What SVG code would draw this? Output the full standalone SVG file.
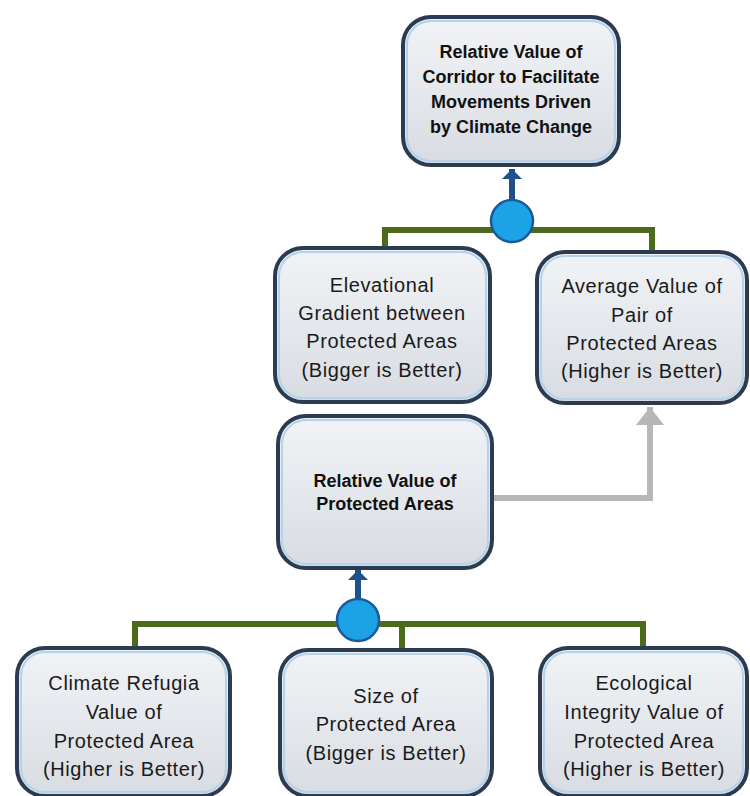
<svg xmlns="http://www.w3.org/2000/svg" width="750" height="796" viewBox="0 0 750 796">
  <defs>
    <linearGradient id="boxFill" x1="0" y1="0" x2="0" y2="1">
      <stop offset="0" stop-color="#f1f3f6"/>
      <stop offset="1" stop-color="#d8dce2"/>
    </linearGradient>
    <marker id="blueHead" markerUnits="userSpaceOnUse" markerWidth="10" markerHeight="20" viewBox="0 0 10 20" refX="10" refY="10" orient="auto">
      <path d="M0,0 L10,10 L0,20 Z" fill="#1f4f8c"/>
    </marker>
    <marker id="greyHead" markerUnits="userSpaceOnUse" markerWidth="18" markerHeight="28" viewBox="0 0 18 28" refX="18" refY="14" orient="auto">
      <path d="M0,0 L18,14 L0,28 Z" fill="#b7b7b7"/>
    </marker>
  </defs>
  <style>
    .box { fill: url(#boxFill); stroke: #2b3c52; stroke-width: 4; }
    .inner { fill: none; stroke: #b4d2ea; stroke-width: 2; }
    .t { font-family: "Liberation Sans", Arial, sans-serif; font-size: 20px; letter-spacing: 0.6px; fill: #1a1a1a; text-anchor: middle; }
    .b { font-family: "Liberation Sans", Arial, sans-serif; font-size: 18px; font-weight: bold; fill: #111; text-anchor: middle; }
    .green { fill: none; stroke: #4c6a1b; stroke-width: 6; }
    .blue { fill: none; stroke: #1f4f8c; stroke-width: 6; marker-end: url(#blueHead); }
    .grey { fill: none; stroke: #b7b7b7; stroke-width: 6; marker-end: url(#greyHead); }
    .junction { fill: #1ba3e6; stroke: #1b5a99; stroke-width: 2.5; }
  </style>
  <rect width="750" height="796" fill="#ffffff"/>

  <g id="connectors">
    <path class="green" d="M385,250 V230 H652 V252"/>
    <path class="blue" d="M512,202 V169"/>
    <circle class="junction" cx="512" cy="221" r="21"/>

    <path class="grey" d="M492,498 H650 V407"/>

    <path class="green" d="M135,649 V624 H643 V649"/>
    <path class="green" d="M402,624 V650"/>
    <path class="blue" d="M358,600 V570"/>
    <circle class="junction" cx="358" cy="620" r="21"/>
  </g>

  <g id="node-corridor">
    <rect class="box" x="403" y="17" width="216" height="148" rx="28"/>
    <rect class="inner" x="407" y="21" width="208" height="140" rx="24"/>
    <text class="b" x="511" y="58">Relative Value of</text>
    <text class="b" x="511" y="83">Corridor to Facilitate</text>
    <text class="b" x="511" y="108">Movements Driven</text>
    <text class="b" x="511" y="133">by Climate Change</text>
  </g>

  <g id="node-elevational">
    <rect class="box" x="275" y="248" width="215" height="154" rx="28"/>
    <rect class="inner" x="279" y="252" width="207" height="146" rx="24"/>
    <text class="t" x="382" y="292">Elevational</text>
    <text class="t" x="382" y="320">Gradient between</text>
    <text class="t" x="382" y="348">Protected Areas</text>
    <text class="t" x="382" y="377">(Bigger is Better)</text>
  </g>

  <g id="node-average">
    <rect class="box" x="537" y="252" width="210" height="151" rx="28"/>
    <rect class="inner" x="541" y="256" width="202" height="143" rx="24"/>
    <text class="t" x="642" y="293">Average Value of</text>
    <text class="t" x="642" y="322">Pair of</text>
    <text class="t" x="642" y="350">Protected Areas</text>
    <text class="t" x="642" y="378">(Higher is Better)</text>
  </g>

  <g id="node-protected">
    <rect class="box" x="278" y="416" width="214" height="152" rx="28"/>
    <rect class="inner" x="282" y="420" width="206" height="144" rx="24"/>
    <text class="b" x="385" y="487">Relative Value of</text>
    <text class="b" x="385" y="510">Protected Areas</text>
  </g>

  <g id="node-refugia">
    <rect class="box" x="17" y="648" width="213" height="148" rx="28"/>
    <rect class="inner" x="21" y="652" width="205" height="140" rx="24"/>
    <text class="t" x="124" y="690">Climate Refugia</text>
    <text class="t" x="124" y="719">Value of</text>
    <text class="t" x="124" y="748">Protected Area</text>
    <text class="t" x="124" y="776">(Higher is Better)</text>
  </g>

  <g id="node-size">
    <rect class="box" x="280" y="650" width="212" height="146" rx="28"/>
    <rect class="inner" x="284" y="654" width="204" height="138" rx="24"/>
    <text class="t" x="386" y="703">Size of</text>
    <text class="t" x="386" y="731">Protected Area</text>
    <text class="t" x="386" y="760">(Bigger is Better)</text>
  </g>

  <g id="node-ecological">
    <rect class="box" x="540" y="648" width="207" height="148" rx="28"/>
    <rect class="inner" x="544" y="652" width="199" height="140" rx="24"/>
    <text class="t" x="644" y="690">Ecological</text>
    <text class="t" x="644" y="719">Integrity Value of</text>
    <text class="t" x="644" y="748">Protected Area</text>
    <text class="t" x="644" y="776">(Higher  is Better)</text>
  </g>
</svg>
